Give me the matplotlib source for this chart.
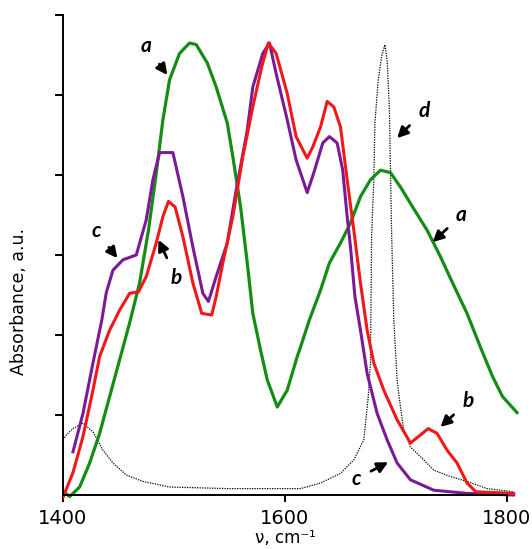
import matplotlib
matplotlib.use("Agg")
from matplotlib import pyplot as plt

# curve a (green)
a_x = [1397, 1406, 1415, 1424, 1433, 1442, 1451, 1460, 1469, 1477, 1484, 1490, 1496,
       1505, 1514, 1520, 1530, 1538, 1548, 1553, 1560, 1566, 1571, 1578, 1584, 1593,
       1602, 1611, 1614, 1622, 1632, 1640, 1650, 1659, 1668, 1677, 1686, 1695, 1704,
       1715, 1728, 1740, 1751, 1764, 1776, 1787, 1796, 1809]
a_y = [0.08, -0.02, 0.10, 0.40, 0.77, 1.23, 1.69, 2.15, 2.65, 3.31, 4.02, 4.69, 5.19,
       5.52, 5.65, 5.63, 5.40, 5.10, 4.65, 4.23, 3.60, 2.90, 2.27, 1.81, 1.44, 1.10,
       1.31, 1.73, 1.85, 2.19, 2.56, 2.90, 3.15, 3.40, 3.73, 3.94, 4.06, 4.03, 3.85,
       3.60, 3.31, 2.98, 2.65, 2.27, 1.85, 1.48, 1.23, 1.03]

# curve b (red)
b_x = [1400, 1409, 1418, 1427, 1433, 1442, 1451, 1460, 1468, 1475, 1484, 1490, 1495,
       1501, 1508, 1517, 1525, 1534, 1538, 1544, 1553, 1562, 1571, 1579, 1585, 1592,
       1602, 1610, 1620, 1625, 1632, 1638, 1644, 1650, 1656, 1662, 1668, 1674, 1680,
       1689, 1701, 1713, 1722, 1729, 1737, 1746, 1755, 1764, 1772, 1806]
b_y = [-0.03, 0.28, 0.73, 1.31, 1.73, 2.06, 2.31, 2.52, 2.54, 2.73, 3.15, 3.48, 3.67,
       3.60, 3.23, 2.65, 2.27, 2.25, 2.48, 2.90, 3.48, 4.23, 4.85, 5.35, 5.65, 5.52,
       5.02, 4.48, 4.21, 4.35, 4.60, 4.92, 4.85, 4.60, 3.94, 3.31, 2.65, 2.06, 1.65,
       1.31, 0.94, 0.65, 0.75, 0.83, 0.77, 0.56, 0.40, 0.15, 0.04, 0.02]

# curve c (purple)
c_x = [1409, 1418, 1427, 1435, 1439, 1445, 1454, 1466, 1475, 1481, 1487, 1499, 1508,
       1517, 1526, 1531, 1538, 1548, 1556, 1566, 1571, 1580, 1586, 1592, 1602, 1610,
       1620, 1626, 1634, 1640, 1647, 1652, 1656, 1659, 1663, 1668, 1674, 1683, 1692,
       1701, 1713, 1734, 1764, 1806]
c_y = [0.54, 1.02, 1.65, 2.19, 2.53, 2.81, 2.94, 3.00, 3.44, 3.94, 4.28, 4.28, 3.73,
       3.10, 2.52, 2.42, 2.73, 3.15, 3.81, 4.56, 5.10, 5.52, 5.65, 5.27, 4.69, 4.19,
       3.78, 4.03, 4.40, 4.48, 4.40, 4.06, 3.48, 3.10, 2.48, 2.06, 1.52, 1.02, 0.69,
       0.40, 0.19, 0.06, 0.02, 0.00]

# curve d (black dotted)
d_x = [1400, 1403, 1409, 1418, 1427, 1436, 1445, 1457, 1472, 1496, 1548, 1614, 1632,
       1650, 1662, 1671, 1675, 1677, 1678, 1680, 1681, 1684, 1687, 1690, 1692, 1694,
       1696, 1698, 1701, 1704, 1707, 1713, 1725, 1734, 1749, 1764, 1782, 1806]
d_y = [0.69, 0.75, 0.83, 0.90, 0.79, 0.56, 0.40, 0.25, 0.17, 0.10, 0.08, 0.08, 0.15,
       0.27, 0.44, 0.69, 1.23, 1.65, 3.23, 3.94, 4.65, 5.19, 5.48, 5.63, 5.44, 4.85,
       3.31, 2.19, 1.44, 1.10, 0.81, 0.60, 0.44, 0.31, 0.23, 0.17, 0.08, 0.04]

# labels: letter, text position, arrow tip
labels = ["a", "a", "d", "b", "c", "b", "c"]
label_xy = [(1475, 5.61), (1759, 3.50), (1725, 4.80), (1502, 2.71), (1430, 3.30),
            (1765, 1.17), (1664, 0.20)]
tip_xy = [(1494, 5.25), (1733, 3.16), (1701, 4.46), (1486, 3.19), (1449, 2.96),
          (1740, 0.85), (1693, 0.41)]

fig = plt.figure(figsize=(5.32, 5.49), dpi=100)
ax = fig.add_axes([63 / 532, 50 / 549, 457 / 532, 492 / 549])

ax.plot(d_x, d_y, color="black", lw=0.9, ls=(0, (1, 1)))
ax.plot(a_x, a_y, color="#168c16", lw=2.3)
ax.plot(c_x, c_y, color="#7a1a96", lw=2.2)
ax.plot(b_x, b_y, color="#f01818", lw=2.2)

for t, xy, tip in zip(labels, label_xy, tip_xy):
    ax.annotate(t, xy=tip, xytext=xy, ha="center", va="center",
                fontsize=15, fontweight="bold", style="italic", family="Lato",
                arrowprops=dict(arrowstyle="-|>", color="black", lw=2,
                                mutation_scale=16, shrinkA=6, shrinkB=0))

ax.set_xlim(1400, 1400 + 457 / 1.11)
ax.set_ylim(-0.05, 6.1)
ax.spines["top"].set_visible(False)
ax.spines["right"].set_visible(False)
ax.spines["bottom"].set_position(("data", 0))
ax.spines["bottom"].set_bounds(1400, 1800)
ax.spines["left"].set_bounds(0, 6)
for s in ["bottom", "left"]:
    ax.spines[s].set_linewidth(1.4)

ax.set_xticks([1400, 1600, 1800])
ax.set_yticks([1, 2, 3, 4, 5, 6])
ax.set_yticklabels([])
ax.tick_params(axis="x", direction="out", length=5, width=1.4, labelsize=14, pad=5)
ax.tick_params(axis="y", direction="out", length=6, width=1.4)

fig.text(0.035, 0.45, "Absorbance, a.u.", rotation=90, ha="center", va="center",
         fontsize=12.5)
fig.text(285 / 532, 2 / 549, "ν, cm⁻¹", ha="center", va="bottom", fontsize=12)

plt.savefig("out.png", dpi=100)
